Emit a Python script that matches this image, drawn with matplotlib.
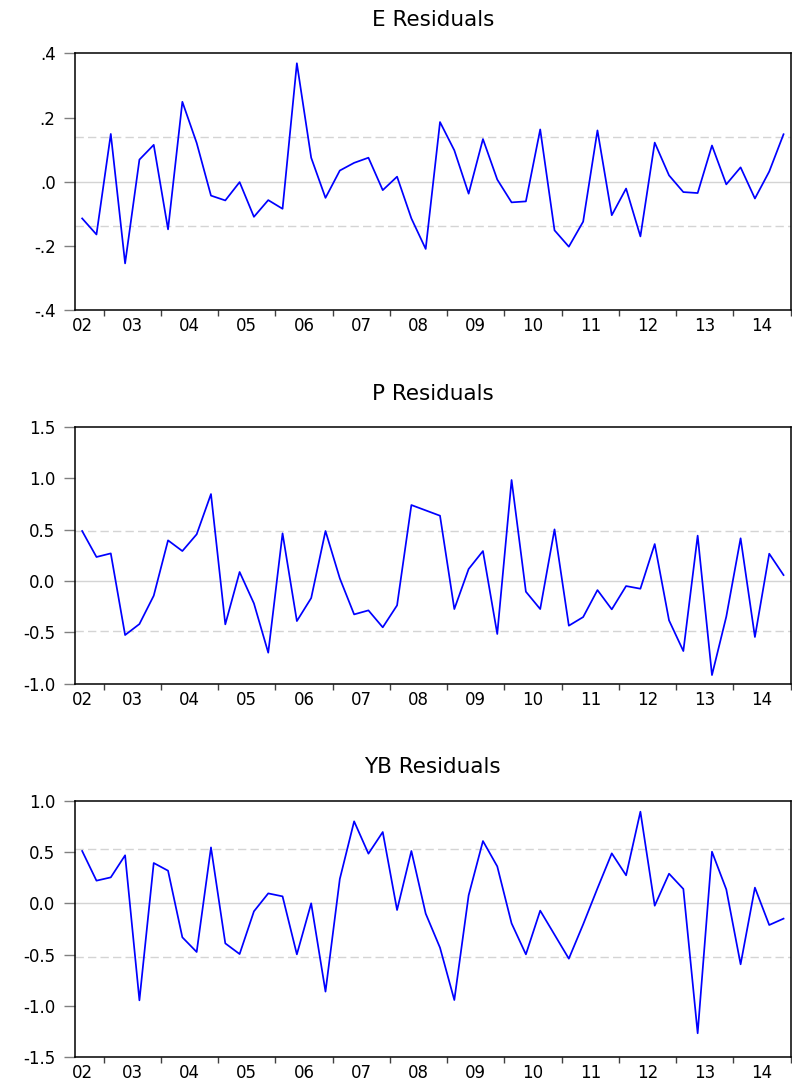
import matplotlib
matplotlib.use("Agg")
import matplotlib.pyplot as plt
import numpy as np

# Quarterly observations 2002Q3 .. 2014Q4 (50 points)
years = ["02", "03", "04", "05", "06", "07", "08", "09", "10", "11", "12", "13", "14"]

e_resid = [-0.114, -0.164, 0.149, -0.254, 0.069, 0.115, -0.148, 0.249, 0.121, -0.043,
           -0.058, -0.001, -0.109, -0.057, -0.084, 0.369, 0.075, -0.050, 0.035, 0.059,
           0.075, -0.026, 0.016, -0.114, -0.209, 0.186, 0.098, -0.037, 0.133, 0.007,
           -0.064, -0.061, 0.163, -0.151, -0.202, -0.124, 0.160, -0.104, -0.021, -0.170,
           0.122, 0.020, -0.032, -0.035, 0.113, -0.008, 0.045, -0.052, 0.032, 0.148]

p_resid = [0.487, 0.234, 0.269, -0.526, -0.419, -0.143, 0.396, 0.292, 0.455, 0.847,
           -0.422, 0.088, -0.218, -0.698, 0.464, -0.390, -0.166, 0.487, 0.026, -0.325,
           -0.286, -0.451, -0.237, 0.740, 0.688, 0.636, -0.273, 0.117, 0.292, -0.516,
           0.984, -0.104, -0.273, 0.503, -0.435, -0.351, -0.088, -0.276, -0.049, -0.075,
           0.360, -0.383, -0.682, 0.442, -0.916, -0.347, 0.416, -0.545, 0.266, 0.058]

yb_resid = [0.510, 0.221, 0.253, 0.468, -0.945, 0.393, 0.318, -0.331, -0.474, 0.545,
            -0.390, -0.494, -0.078, 0.097, 0.068, -0.497, 0.000, -0.860, 0.237, 0.799,
            0.484, 0.695, -0.065, 0.510, -0.100, -0.432, -0.942, 0.078, 0.607, 0.360,
            -0.195, -0.497, -0.071, -0.305, -0.539, -0.205, 0.146, 0.487, 0.273, 0.893,
            -0.023, 0.289, 0.140, -1.266, 0.503, 0.136, -0.594, 0.153, -0.211, -0.149]

titles = ["E Residuals", "P Residuals", "YB Residuals"]
bands = [0.139, 0.49, 0.525]
ylims = [(-0.4, 0.4), (-1.0, 1.5), (-1.5, 1.0)]
yticks = [[-0.4, -0.2, 0.0, 0.2, 0.4],
          [-1.0, -0.5, 0.0, 0.5, 1.0, 1.5],
          [-1.5, -1.0, -0.5, 0.0, 0.5, 1.0]]
yticklabels = [["-.4", "-.2", ".0", ".2", ".4"],
               ["-1.0", "-0.5", "0.0", "0.5", "1.0", "1.5"],
               ["-1.5", "-1.0", "-0.5", "0.0", "0.5", "1.0"]]
series = [e_resid, p_resid, yb_resid]

W, H = 792, 1085
fig = plt.figure(figsize=(W / 100, H / 100), dpi=100)
plt.rcParams['font.family'] = ['DejaVu Sans']

panels_px = [(53.3, 310.3), (427.0, 683.7), (800.7, 1057.3)]
left_px, right_px = 75.0, 790.7

n = len(e_resid)
x = np.arange(n)
# year boundaries (between Q4 and Q1); first obs is 2002Q3
boundaries = [1.5 + 4 * k for k in range(len(years))]
label_pos = [0.0] + [3.5 + 4 * k for k in range(len(years) - 1)]

for i in range(3):
    top, bot = panels_px[i]
    ax = fig.add_axes([left_px / W, 1 - bot / H, (right_px - left_px) / W, (bot - top) / H])
    ax.axhline(0, color='#d4d4d4', lw=1.0, zorder=1)
    ax.axhline(bands[i], color='#d4d4d4', lw=1.0, ls=(0, (6, 3)), zorder=1)
    ax.axhline(-bands[i], color='#d4d4d4', lw=1.0, ls=(0, (6, 3)), zorder=1)
    ax.plot(x, series[i], color='#0000ff', lw=1.25, zorder=3)
    ax.set_xlim(-0.5, n - 0.5)
    ax.set_ylim(*ylims[i])
    ax.set_yticks(yticks[i])
    ax.set_yticklabels(yticklabels[i])
    ax.set_xticks(boundaries)
    ax.set_xticklabels([])
    ax.set_xticks(label_pos, minor=True)
    ax.set_xticklabels(years, minor=True)
    ax.tick_params(axis='y', direction='out', length=8, width=1.0, color='#808080',
                   pad=6, labelsize=12, labelcolor='black')
    ax.tick_params(axis='x', which='major', direction='out', length=4.5, width=1.0,
                   color='#404040')
    ax.tick_params(axis='x', which='minor', length=0, pad=5, labelsize=12,
                   labelcolor='black')
    for sp in ax.spines.values():
        sp.set_linewidth(1.1)
        sp.set_color('black')
    ax.annotate(titles[i], xy=(0.5, 1.0), xycoords='axes fraction',
                xytext=(0, 24), textcoords='offset points',
                ha='center', va='center', fontsize=15.5)

fig.savefig("out.png", dpi=100)
